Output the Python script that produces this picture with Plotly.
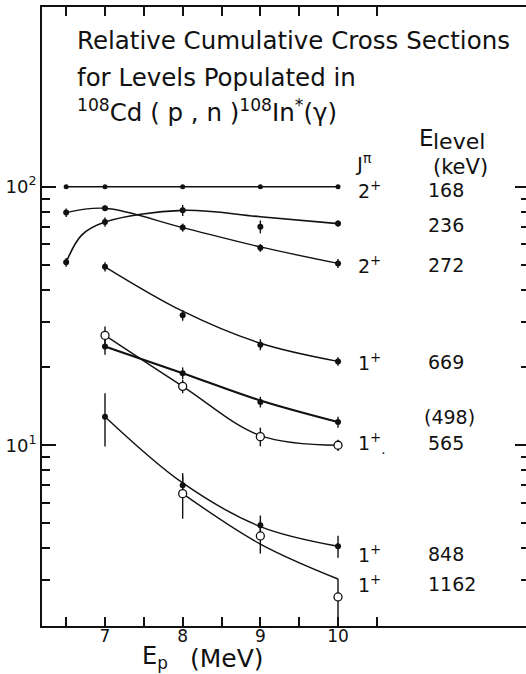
import math
import plotly.graph_objects as go

# ---------------- data ----------------
energy5 = [6.5, 7, 8, 9, 10]
energy4 = [7, 8, 9, 10]
energy3 = [8, 9, 10]

# measured relative cumulative cross sections (points) and errors
sig_168 = [100, 100, 100, 100, 100]
err_168 = [1.5, 1.5, 1.5, 1.5, 1.5]
sig_236 = [51, 73, 81, 70, 72]
err_236 = [2, 3, 4, 4, 2]
sig_272 = [79.4, 82.5, 69.5, 58, 50.5]
err_272 = [3, 2, 2.5, 2, 2]
sig_669 = [49, 31.8, 24.5, 21.1]
err_669 = [2, 1.5, 1.2, 0.8]
sig_498 = [24.1, 19.0, 14.7, 12.3]
err_498 = [1.7, 1.0, 0.7, 0.6]
sig_565 = [26.6, 16.9, 10.8, 10.0]
err_565 = [2.2, 1.0, 0.9, 0.5]
sig_848 = [12.9, 7.0, 4.9, 4.07]
err_848 = [3.0, 0.6, 0.45, 0.4]
sig_1162 = [6.5, 4.46, 2.59]
err_1162_up = [1.3, 0.65, 0.45]
err_1162_dn = [1.3, 0.65, 0.6]

# hand-drawn smooth curves (knots)
curve_168_x = [6.5, 10]
curve_168_y = [100, 100]
curve_236_x = [6.5, 6.7, 7, 8, 9, 10]
curve_236_y = [51, 65, 73, 81, 76.5, 72]
curve_272_x = [6.5, 7, 8, 9, 10]
curve_272_y = [79.4, 82.5, 69.5, 58.5, 50.5]
curve_669_x = [7, 8, 9, 10]
curve_669_y = [49, 33, 24.8, 21.1]
curve_498_x = [7, 8, 9, 10]
curve_498_y = [24.1, 19.0, 14.9, 12.3]
curve_565_x = [7, 8, 9, 10]
curve_565_y = [26.6, 16.9, 10.9, 10.0]
curve_848_x = [7, 8, 9, 10]
curve_848_y = [12.9, 7.15, 4.85, 4.07]
curve_1162_x = [8, 9, 10]
curve_1162_y = [6.5, 4.15, 3.04]

jpi_labels = ["2<sup>+</sup>", "", "2<sup>+</sup>", "1<sup>+</sup>", "",
              "1<sup>+</sup><sub>.</sub>", "1<sup>+</sup>", "1<sup>+</sup>"]
level_labels = ["168", "236", "272", "669", "(498)", "565", "848", "1162"]

x_major = [7, 8, 9, 10]
x_minor = [6.5, 7.5, 8.5, 9.5, 10.5]
y_major = [10, 100]
y_major_text = ["10<sup>1</sup>", "10<sup>2</sup>"]
y_minor = [3, 4, 5, 6, 7, 8, 9, 20, 30, 40, 50, 60, 70, 80, 90]

# ---------------- figure ----------------
W, H = 526, 674
ML, MR, MT, MB = 42, 0, 7, 48
PW, PH = W - ML - MR, H - MT - MB
FONT = "DejaVu Sans"
INK = "#111111"


def px(x):
    return (x - ML) / PW


def py(y):
    return (H - MB - y) / PH


fig = go.Figure()

curves = [
    (curve_168_x, curve_168_y, 1.4),
    (curve_236_x, curve_236_y, 1.6),
    (curve_272_x, curve_272_y, 1.4),
    (curve_669_x, curve_669_y, 1.4),
    (curve_498_x, curve_498_y, 2.2),
    (curve_565_x, curve_565_y, 1.4),
    (curve_848_x, curve_848_y, 1.4),
    (curve_1162_x, curve_1162_y, 1.4),
]
for cx, cy, w in curves:
    fig.add_trace(go.Scatter(x=cx, y=cy, mode="lines",
                             line=dict(color=INK, width=w, shape="spline", smoothing=1.0),
                             hoverinfo="skip", showlegend=False))

filled = [
    (energy5, sig_168, err_168, 5),
    (energy5, sig_236, err_236, 6),
    (energy5, sig_272, err_272, 6),
    (energy4, sig_669, err_669, 6),
    (energy4, sig_498, err_498, 6),
    (energy4, sig_848, err_848, 6),
]
for ex, sy, ey, ms in filled:
    fig.add_trace(go.Scatter(x=ex, y=sy, mode="markers",
                             marker=dict(symbol="circle", size=ms, color=INK),
                             error_y=dict(type="data", array=ey, visible=True,
                                          color=INK, thickness=1.4, width=0),
                             showlegend=False))

fig.add_trace(go.Scatter(x=energy4, y=sig_565, mode="markers",
                         marker=dict(symbol="circle", size=8, color="white",
                                     line=dict(color=INK, width=1.3)),
                         error_y=dict(type="data", array=err_565, visible=True,
                                      color=INK, thickness=1.4, width=0),
                         showlegend=False))
fig.add_trace(go.Scatter(x=energy3, y=sig_1162, mode="markers",
                         marker=dict(symbol="circle", size=8, color="white",
                                     line=dict(color=INK, width=1.3)),
                         error_y=dict(type="data", array=err_1162_up, arrayminus=err_1162_dn,
                                      symmetric=False, visible=True,
                                      color=INK, thickness=1.4, width=0),
                         showlegend=False))

# empty trace so the right-hand tick axis is drawn
fig.add_trace(go.Scatter(x=[], y=[], yaxis="y2", showlegend=False))

ann = []


def text(s, x, y, size, xanchor="left", yanchor="middle"):
    ann.append(dict(text=s, x=px(x), y=py(y), xref="paper", yref="paper",
                    xanchor=xanchor, yanchor=yanchor, showarrow=False,
                    font=dict(family=FONT, size=size, color=INK)))


# title block
text("Relative Cumulative Cross Sections", 75, 41, 24.5)
text("for Levels Populated in", 75, 77, 24.5)
text("<sup>108</sup>Cd ( p , n )<sup>108</sup>In<sup>*</sup>(γ)", 75, 111, 24.5)

# column headers
text("J<sup>π</sup>", 353, 163, 20)
text("E", 417, 138, 23)
text("level", 431, 142, 22)
text("(keV)", 431, 167, 21)

# right labels
label_y = [190, 225, 265, 362, 417, 443, 554, 584]
for jl, ll, yy in zip(jpi_labels, level_labels, label_y):
    if jl:
        text(jl, 356, yy, 19)
    text(ll, 422 if ll.startswith("(") else 426, yy, 19)

# x axis title
text("E<sub>p</sub>", 140, 657, 24)
text("(MeV)", 188, 658, 25)

fig.update_layout(
    width=W, height=H,
    margin=dict(l=ML, r=MR, t=MT, b=MB, pad=0),
    paper_bgcolor="white", plot_bgcolor="white",
    font=dict(family=FONT, color=INK),
    showlegend=False,
    annotations=ann,
    xaxis=dict(range=[6.189, 12.42], showline=True, linewidth=2, linecolor=INK,
               mirror="ticks", ticks="inside", ticklen=9, tickwidth=1.5, tickcolor=INK,
               tickvals=x_major, tickfont=dict(size=17, family=FONT),
               ticklabelstandoff=-6,
               minor=dict(ticks="inside", ticklen=9, tickwidth=1.5, tickcolor=INK,
                          tickvals=x_minor, showgrid=False),
               showgrid=False, zeroline=False),
    yaxis=dict(type="log", range=[math.log10(2), 2.695], showline=True, linewidth=2,
               linecolor=INK, ticks="inside", ticklen=14, tickwidth=1.5, tickcolor=INK,
               tickvals=y_major, ticktext=y_major_text, tickfont=dict(size=18, family=FONT),
               minor=dict(ticks="inside", ticklen=8, tickwidth=1.5, tickcolor=INK,
                          tickvals=y_minor, showgrid=False),
               showgrid=False, zeroline=False),
    yaxis2=dict(type="log", range=[math.log10(2), 2.695], overlaying="y", side="right",
                showline=False, ticks="inside", ticklen=11, tickwidth=1.5, tickcolor=INK,
                tickvals=y_major, showticklabels=False,
                minor=dict(ticks="inside", ticklen=5, tickwidth=1.5, tickcolor=INK,
                           tickvals=y_minor, showgrid=False),
                showgrid=False, zeroline=False),
)

fig.write_html("out.html")
